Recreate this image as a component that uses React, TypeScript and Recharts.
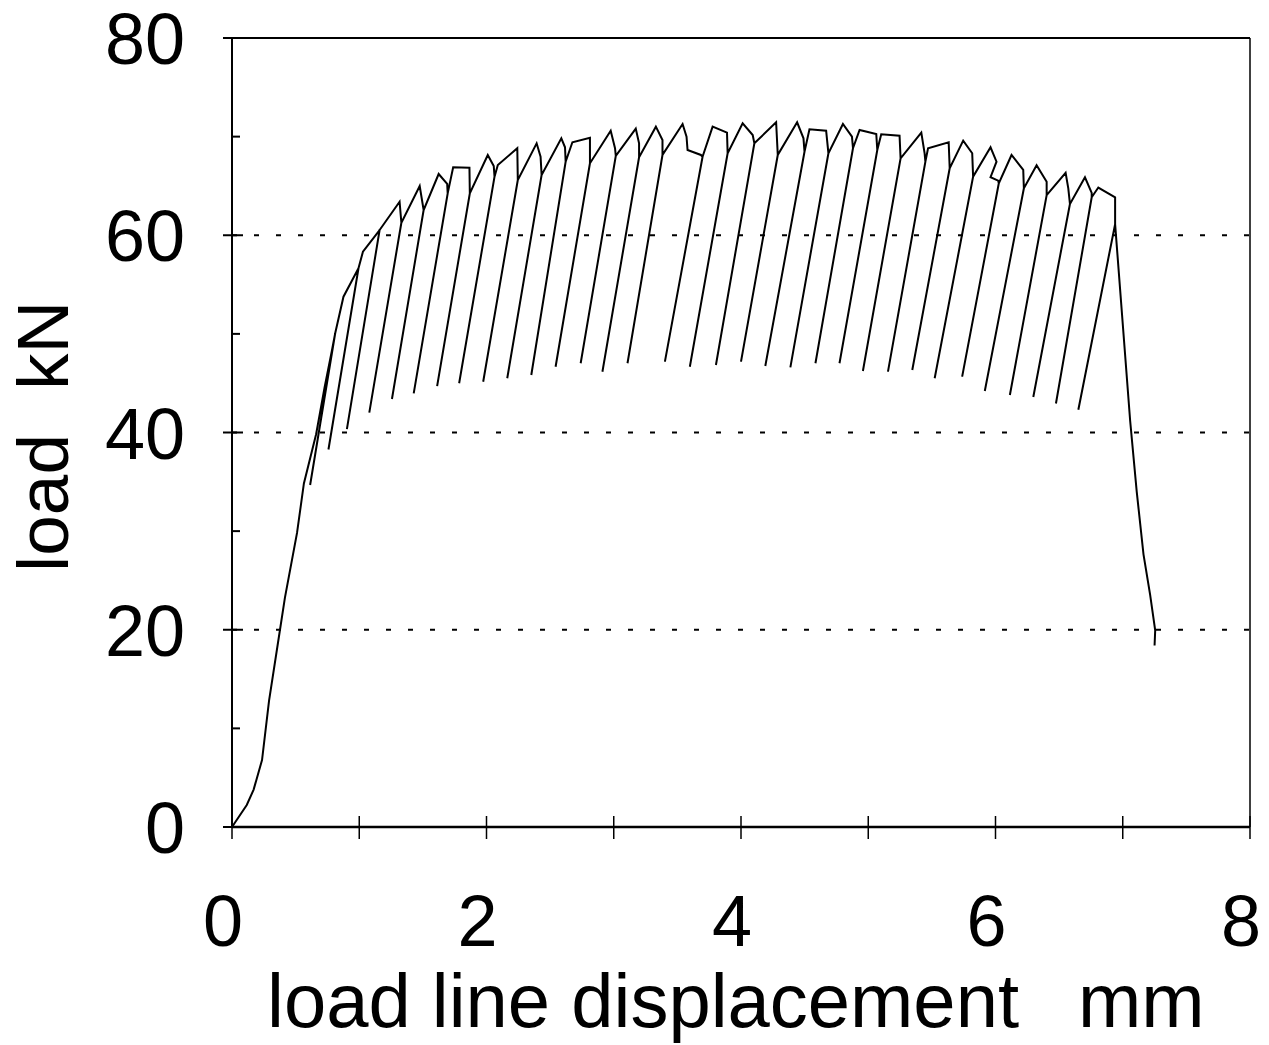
import React from 'react';
import { LineChart, Line, XAxis, YAxis, ReferenceLine } from 'recharts';

type Pt = [number, number];

// [displacement mm, load kN]
const initialRise: Pt[] = [
  [0, 0], [0.116, 2.23], [0.17, 3.79], [0.236, 6.79], [0.291, 12.78], [0.375, 19.82],
  [0.416, 23.26], [0.511, 29.82], [0.565, 34.84], [0.661, 39.82], [0.729, 44.66], [0.783, 48.17]
];

// top of each unloading line
const unloadTops: Pt[] = [
  [0.811, 50.06], [0.994, 56.65], [1.16, 60.53], [1.331, 61.27], [1.506, 62.56], [1.695, 64.25],
  [1.869, 64.25], [2.063, 65.94], [2.246, 65.6], [2.433, 66.11], [2.622, 67.46], [2.813, 67.3],
  [3.016, 68.04], [3.199, 67.91], [3.383, 68.14], [3.698, 67.96], [3.895, 68.31], [4.105, 69.32],
  [4.289, 68.14], [4.499, 68.47], [4.687, 68.31], [4.88, 68.82], [5.071, 68.64], [5.254, 67.8],
  [5.449, 67.46], [5.64, 66.79], [5.824, 65.94], [6.026, 65.27], [6.223, 64.76], [6.402, 64.07],
  [6.585, 63.17], [6.756, 63.85], [6.94, 61.13]
];

// bottom of each unloading line
const unloadBottoms: Pt[] = [
  [0.614, 34.68], [0.758, 38.28], [0.903, 40.35], [1.079, 42.02], [1.257, 43.4], [1.428, 43.97],
  [1.612, 44.71], [1.785, 44.99], [1.974, 45.15], [2.163, 45.5], [2.352, 45.83], [2.543, 46.67],
  [2.74, 47.02], [2.911, 46.16], [3.108, 47.02], [3.402, 47.18], [3.598, 46.67], [3.803, 46.84],
  [4.0, 47.18], [4.191, 46.74], [4.388, 46.61], [4.585, 47.02], [4.774, 47.02], [4.958, 46.24],
  [5.155, 46.17], [5.346, 46.34], [5.522, 45.5], [5.738, 45.66], [5.916, 44.21], [6.113, 43.8],
  [6.297, 43.6], [6.475, 42.94], [6.651, 42.3]
];

// crest points between one unloading line and the next
const crests: Pt[][] = [
  [[0.876, 53.77]],
  [[1.029, 58.33]],
  [[1.317, 63.4]],
  [[1.475, 64.99]],
  [[1.624, 66.21], [1.691, 65.2]],
  [[1.738, 66.9], [1.866, 66.85]],
  [[2.01, 68.14], [2.057, 67.02]],
  [[2.089, 67.12], [2.242, 68.82]],
  [[2.394, 69.32], [2.425, 67.96]],
  [[2.588, 69.83], [2.617, 68.92]],
  [[2.675, 69.43], [2.813, 69.89]],
  [[2.976, 70.6], [3.01, 68.82]],
  [[3.173, 70.82], [3.199, 69.32]],
  [[3.331, 71.01], [3.383, 69.66]],
  [[3.541, 71.28], [3.572, 69.99], [3.58, 68.64], [3.685, 68.14]],
  [[3.777, 71.01], [3.89, 70.4]],
  [[4.013, 71.35], [4.092, 70.16]],
  [[4.276, 71.45]],
  [[4.441, 71.45], [4.491, 69.83]],
  [[4.538, 70.74], [4.669, 70.6]],
  [[4.801, 71.28], [4.872, 69.99]],
  [[4.932, 70.67], [5.063, 70.27]],
  [[5.102, 70.24], [5.246, 70.1]],
  [[5.417, 70.4], [5.443, 68.31]],
  [[5.47, 68.82], [5.632, 69.43]],
  [[5.746, 69.59], [5.817, 68.31]],
  [[5.961, 68.92], [6.008, 67.46], [5.961, 65.88], [6.021, 65.53]],
  [[6.126, 68.14], [6.218, 66.62]],
  [[6.323, 67.1], [6.402, 65.43]],
  [[6.551, 66.33], [6.572, 64.75]],
  [[6.703, 65.88], [6.756, 64.3]],
  [[6.808, 64.84], [6.94, 63.85]]
];

const finalDrop: Pt[] = [
  [7.058, 41.22], [7.11, 33.98], [7.163, 27.65], [7.215, 23.57], [7.255, 19.95], [7.25, 18.4]
];

const xTicks = [0, 1, 2, 3, 4, 5, 6, 7, 8];
const yTicks = [0, 10, 20, 30, 40, 50, 60, 70, 80];
const gridLoads = [20, 40, 60];

const FONT = '"Liberation Sans", Arial, Helvetica, sans-serif';

function buildPath() {
  const pts: Pt[] = [...initialRise];
  unloadTops.forEach((top, i) => {
    pts.push(top, unloadBottoms[i], top);
    if (i < crests.length) pts.push(...crests[i]);
  });
  pts.push(...finalDrop);
  return pts.map(([x, load]) => ({ x, load }));
}

const YTick = ({ x, y, payload }: any) => {
  const v = payload.value;
  const major = v % 20 === 0;
  return (
    <g>
      <line x1={major ? x - 9 : x - 1} x2={major ? x + 11 : x + 8} y1={y} y2={y} stroke="#000" strokeWidth={2} />
      {major && (
        <text x={x - 47} y={y} dy={26} textAnchor="end" fontSize={72} fontFamily={FONT} fill="#000">
          {v}
        </text>
      )}
    </g>
  );
};

const XTick = ({ x, y, payload }: any) => {
  const v = payload.value;
  return (
    <g>
      <line x1={x} x2={x} y1={y - 11} y2={y + 12} stroke="#000" strokeWidth={1.5} />
      {v % 2 === 0 && (
        <text x={x - 9} y={y + 119} textAnchor="middle" fontSize={72} fontFamily={FONT} fill="#000">
          {v}
        </text>
      )}
    </g>
  );
};

const XTitle = () => (
  <g fontFamily={FONT} fontSize={76} fill="#000">
    <text x={267} y={1027}>load line displacement</text>
    <text x={1078} y={1027}>mm</text>
  </g>
);

const YTitle = () => (
  <g fontFamily={FONT} fontSize={73} fill="#000">
    <text x={68} y={572} transform="rotate(-90 68 572)">load</text>
    <text x={68} y={390} transform="rotate(-90 68 390)">kN</text>
  </g>
);

export default function App() {
  const data = buildPath();
  return (
    <div style={{ position: 'absolute', left: 0, top: 0, width: 1269, height: 1045, background: '#fff' }}>
      <LineChart width={1269} height={1045} data={data} margin={{ top: 38, right: 19, left: 0, bottom: 0 }}>
        <XAxis
          dataKey="x"
          type="number"
          domain={[0, 8]}
          ticks={xTicks}
          interval={0}
          height={218}
          tickSize={0}
          tickMargin={0}
          tickLine={false}
          tick={<XTick />}
          axisLine={{ stroke: '#000', strokeWidth: 2.5 }}
          label={<XTitle />}
        />
        <YAxis
          type="number"
          domain={[0, 80]}
          ticks={yTicks}
          interval={0}
          width={232}
          tickSize={0}
          tickMargin={0}
          tickLine={false}
          tick={<YTick />}
          axisLine={{ stroke: '#000', strokeWidth: 2 }}
          label={<YTitle />}
        />
        {gridLoads.map((g) => (
          <ReferenceLine key={g} y={g} stroke="#000" strokeWidth={2} strokeDasharray="5 17" />
        ))}
        <ReferenceLine y={80} stroke="#000" strokeWidth={2} />
        <ReferenceLine x={8} stroke="#000" strokeWidth={1.5} />
        <Line
          type="linear"
          dataKey="load"
          stroke="#000"
          strokeWidth={2}
          dot={false}
          isAnimationActive={false}
        />
      </LineChart>
    </div>
  );
}
